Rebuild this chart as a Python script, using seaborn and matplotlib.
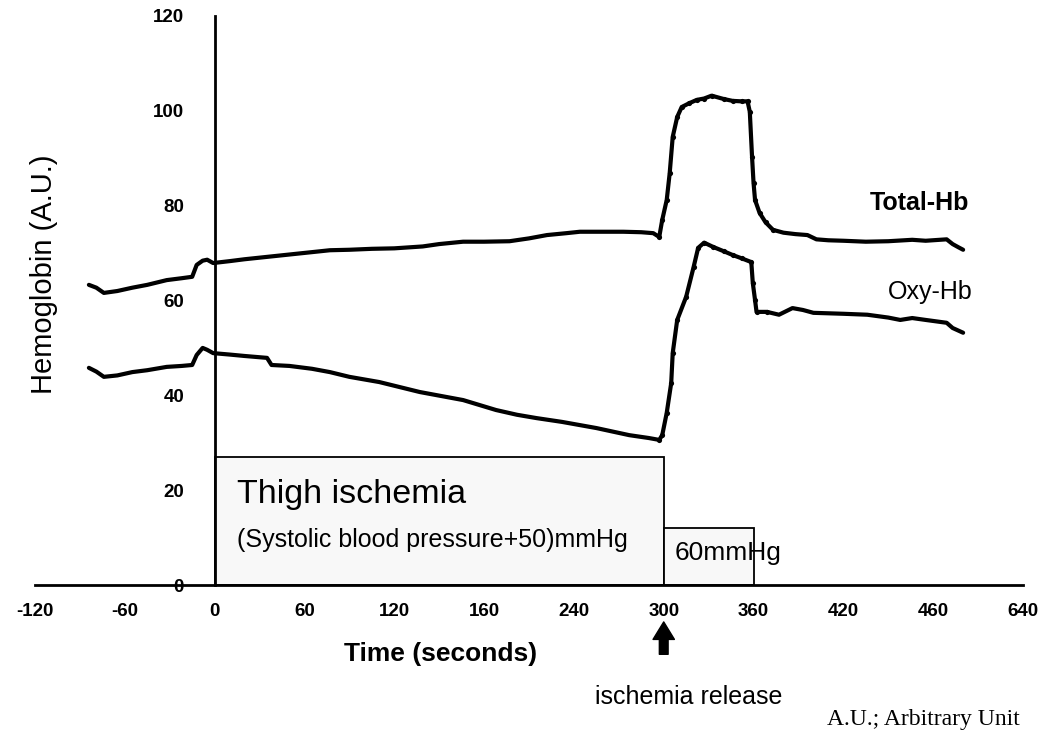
import pandas as pd
import matplotlib.pyplot as plt
import seaborn as sns
from matplotlib.patches import Rectangle

# Time axis (seconds) and hemoglobin readings (A.U.)
total_time = [-84, -79, -74, -65, -55, -45, -32, -22, -15, -12, -8, -5, -1,
              10, 20, 35, 50, 65, 77, 90, 105, 120, 139, 150, 166, 180, 197,
              210, 222, 235, 244, 260, 273, 285, 293, 297, 299, 302, 304, 306,
              309, 312, 317, 322, 327, 332, 340, 346, 352, 356, 357.5, 359,
              360, 361, 364, 368, 373, 380, 388, 396, 402, 410, 420, 435, 450,
              466, 475, 489, 493, 497, 500]
total_hb = [63.3, 62.7, 61.6, 62.0, 62.7, 63.3, 64.3, 64.7, 65.0, 67.5, 68.4,
            68.6, 67.9, 68.3, 68.7, 69.2, 69.7, 70.2, 70.6, 70.7, 70.9, 71.0,
            71.4, 71.9, 72.4, 72.4, 72.5, 73.1, 73.8, 74.2, 74.5, 74.5, 74.5,
            74.4, 74.2, 73.4, 77.0, 81.2, 86.9, 94.5, 98.7, 100.8, 101.6,
            102.3, 102.6, 103.2, 102.5, 102.1, 102.0, 102.0, 99.8, 90.3, 84.8,
            81.2, 78.5, 76.5, 74.9, 74.3, 74.0, 73.8, 72.9, 72.7, 72.6, 72.4,
            72.5, 72.8, 72.6, 72.9, 71.9, 71.2, 70.7]

oxy_time = [-84, -79, -74, -65, -55, -45, -32, -22, -15, -12, -8, -5, -1,
            10, 20, 35, 38, 50, 65, 77, 90, 110, 137, 166, 188, 202, 215, 232,
            255, 277, 290, 297, 299, 302, 305, 306, 309, 315, 320, 323, 327,
            333, 340, 346, 352, 358.5, 359.5, 361, 362, 369, 377, 386, 393,
            400, 420, 436, 450, 458, 466, 475, 489, 493, 500]
oxy_hb = [45.8, 45.0, 43.9, 44.2, 44.9, 45.3, 46.0, 46.2, 46.4, 48.5, 50.0,
          49.6, 48.9, 48.6, 48.3, 47.9, 46.4, 46.2, 45.6, 44.9, 43.9, 42.8,
          40.7, 39.0, 36.9, 35.9, 35.2, 34.4, 33.1, 31.6, 31.0, 30.6, 31.6,
          36.3, 42.6, 48.9, 55.9, 60.8, 67.1, 71.1, 72.2, 71.3, 70.4, 69.6,
          68.9, 68.1, 63.7, 60.1, 57.6, 57.6, 57.0, 58.4, 58.0, 57.4, 57.2,
          57.0, 56.4, 55.9, 56.3, 55.9, 55.3, 54.2, 53.2]

# Cuff periods: (start, end, height)
cuff_start = [0, 300]
cuff_end = [300, 360]
cuff_height = [27, 12]

x_ticks = [-120, -60, 0, 60, 120, 180, 240, 300, 360, 420, 480, 540]
x_tick_labels = ['-120', '-60', '0', '60', '120', '160', '240', '300', '360',
                 '420', '460', '640']
y_ticks = [0, 20, 40, 60, 80, 100, 120]

total_df = pd.DataFrame({'time': total_time, 'hb': total_hb})
oxy_df = pd.DataFrame({'time': oxy_time, 'hb': oxy_hb})

sns.set_style('white')
plt.rcParams['font.family'] = ['Liberation Sans', 'DejaVu Sans']
plt.rcParams['text.color'] = 'black'
plt.rcParams['axes.labelcolor'] = 'black'
plt.rcParams['axes.edgecolor'] = 'black'

fig = plt.figure(figsize=(10.44, 7.43), dpi=100)
ax = fig.add_axes([35 / 1044, 158 / 743, 988 / 1044, 569 / 743])

# Ischemia boxes
for s, e, h in zip(cuff_start, cuff_end, cuff_height):
    ax.add_patch(Rectangle((s, 0), e - s, h, facecolor='#f8f8f8',
                           edgecolor='black', linewidth=1.3, zorder=1))

# Curves
for df in (total_df, oxy_df):
    sns.lineplot(data=df, x='time', y='hb', sort=False, estimator=None,
                 color='black', linewidth=3.0, ax=ax, zorder=3)
    steep = df[(df['time'] > 296) & (df['time'] < 375)]
    sns.scatterplot(data=steep, x='time', y='hb', color='black', s=14,
                    linewidth=0, ax=ax, zorder=4)

ax.set_xlim(-120, 540)
ax.set_ylim(0, 120)
ax.set_xticks(x_ticks)
ax.set_xticklabels(x_tick_labels)
ax.set_yticks(y_ticks)

ax.spines['top'].set_visible(False)
ax.spines['right'].set_visible(False)
ax.spines['left'].set_position(('data', 0))
ax.spines['left'].set_linewidth(2)
ax.spines['bottom'].set_linewidth(2)
ax.spines['left'].set_zorder(5)

ax.tick_params(axis='x', direction='in', length=6, width=1.5, pad=13,
               labelsize=13.5, colors='black')
ax.tick_params(axis='y', direction='in', length=6, width=1.5, pad=22,
               labelsize=13.5, colors='black')
for lab in ax.get_xticklabels() + ax.get_yticklabels():
    lab.set_fontweight('bold')

ax.set_xlabel('Time (seconds)', fontsize=19, fontweight='bold')
ax.xaxis.set_label_coords(0.41, -0.10)
ax.set_ylabel('Hemoglobin (A.U.)', fontsize=21)
ax.yaxis.set_label_coords(0.023, 0.547)

# Annotations
ax.text(14.7, 19, 'Thigh ischemia', fontsize=24.5, va='center', ha='left')
ax.text(14.7, 9.5, '(Systolic blood pressure+50)mmHg', fontsize=18,
        va='center', ha='left')
ax.text(307, 6.7, '60mmHg', fontsize=19, va='center', ha='left', zorder=6)
ax.text(437.5, 80.6, 'Total-Hb', fontsize=18, fontweight='bold',
        va='center', ha='left')
ax.text(449.6, 61.8, 'Oxy-Hb', fontsize=18, va='center', ha='left')

ax.annotate('', xy=(300, -7.2), xytext=(300, -15.2),
            arrowprops=dict(arrowstyle='simple,head_width=1.1,head_length=0.9,tail_width=0.45',
                            color='black', mutation_scale=14),
            annotation_clip=False)
ax.text(317, -23.6, 'ischemia release', fontsize=18, ha='center',
        va='center', clip_on=False)

fig.text(1020 / 1044, 0.031, 'A.U.; Arbitrary Unit', fontsize=17,
         family='Liberation Serif', ha='right', va='center')

fig.savefig('out.png', dpi=100)
